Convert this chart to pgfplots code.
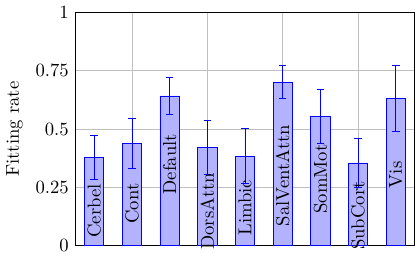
\documentclass[border=0pt]{standalone}
\usepackage{pgfplots}
\pgfplotsset{compat=1.18}
\begin{document}
\begin{tikzpicture}
\begin{axis}[
  scale only axis, width=181.8pt, height=125pt,
  ybar, bar width=10.3pt,
  xmin=0.5, xmax=9.5,
  ymin=0, ymax=1,
  xtick={2,4,6,8}, xticklabels={,,,},
  ytick={0,0.25,0.5,0.75,1},
  yticklabels={0,0.25,0.5,0.75,1},
  tick style={draw=none},
  grid=major,
  ylabel={Fitting rate},
  clip=false,
]
\addplot+[error bars/.cd, y dir=both, y explicit] coordinates {
 (1,0.380) +- (0,0.095)
 (2,0.439) +- (0,0.107)
 (3,0.642) +- (0,0.078)
 (4,0.420) +- (0,0.116)
 (5,0.384) +- (0,0.117)
 (6,0.701) +- (0,0.071)
 (7,0.554) +- (0,0.117)
 (8,0.355) +- (0,0.105)
 (9,0.632) +- (0,0.143)
};
\node[rotate=90] at (axis cs:1,0.149) {Cerbel};
\node[rotate=90] at (axis cs:2,0.180) {Cont};
\node[rotate=90] at (axis cs:3,0.350) {Default};
\node[rotate=90] at (axis cs:4,0.147) {DorsAttn};
\node[rotate=90] at (axis cs:5,0.163) {Limbic};
\node[rotate=90] at (axis cs:6,0.301) {SalVentAttn};
\node[rotate=90] at (axis cs:7,0.286) {SomMot};
\node[rotate=90] at (axis cs:8,0.129) {SubCort};
\node[rotate=90] at (axis cs:9,0.304) {Vis};
\end{axis}
\end{tikzpicture}
\end{document}
